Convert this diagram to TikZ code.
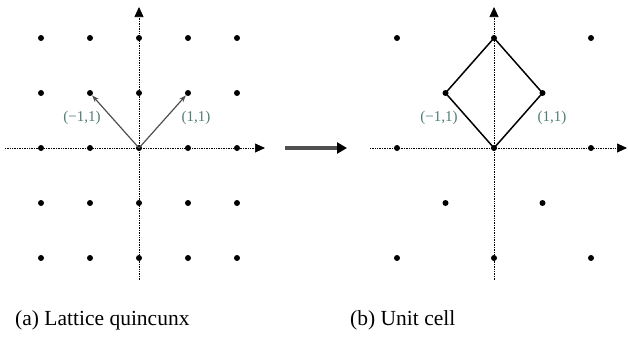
\documentclass[tikz,border=0pt]{standalone}
\usepackage{fontspec}
\setmainfont{Liberation Serif}
\usetikzlibrary{positioning, arrows.meta}
\definecolor{lblteal}{RGB}{80,125,118}
\definecolor{vecgray}{RGB}{80,80,80}

\begin{document}
\begin{tikzpicture}[x=1pt, y=-1pt, font=\fontsize{15}{17}\selectfont,
  dot/.style={circle, fill=black, inner sep=0pt, minimum size=6pt},
  axis/.style={densely dotted, line width=0.7pt, -{Triangle[length=10pt, width=9pt]}},
  vec/.style={vecgray, line width=1.2pt, -{Stealth[length=7pt, width=5pt]}},
  cell/.style={line width=1.5pt, line join=round},
  lbl/.style={text=lblteal, inner sep=1pt},
  captext/.style={font=\fontsize{21.5}{24}\selectfont, anchor=west, inner sep=0pt}]
  \useasboundingbox (0,0) rectangle (628,338);

  % (a) lattice
  \coordinate (ax0) at (5,148);   \coordinate (ax1) at (265,148);
  \coordinate (ay0) at (139,280); \coordinate (ay1) at (139,7);
  \draw[axis] (ax0) -- (ax1);
  \draw[axis] (ay0) -- (ay1);
  \foreach \i in {-2,...,2}
    \foreach \j in {-2,...,2}
      \node[dot] (a\i\j) at (139+49*\i, 148-55*\j) {};
  \draw[vec] (a00.center) -- (a-11);
  \draw[vec] (a00.center) -- (a11);
  \node[lbl] (la1) at (82,118) {(−1,1)};
  \node[lbl] (la2) at (196,118) {(1,1)};

  % arrow between the two
  \coordinate (m0) at (285,148); \coordinate (m1) at (347,148);
  \draw[vecgray, line width=3.5pt, -{Triangle[length=10pt, width=11pt, color=black]}] (m0) -- (m1);

  % (b) unit cell
  \coordinate (bx0) at (370,148); \coordinate (bx1) at (627,148);
  \coordinate (by0) at (494,280); \coordinate (by1) at (494,7);
  \draw[axis] (bx0) -- (bx1);
  \draw[axis] (by0) -- (by1);
  \foreach \i/\j in {-2/2,0/2,2/2,-1/1,1/1,-2/0,0/0,2/0,-1/-1,1/-1,-2/-2,0/-2,2/-2}
    \node[dot] (b\i\j) at (494+48.5*\i, 148-55*\j) {};
  \draw[cell] (b00.center) -- (b11.center) -- (b02.center) -- (b-11.center) -- cycle;
  \node[lbl] (lb1) at (439,118) {(−1,1)};
  \node[lbl] (lb2) at (552,118) {(1,1)};

  \node[captext] (capa) at (15,320) {(a) Lattice quincunx};
  \node[captext] (capb) at (350,320) {(b) Unit cell};
\end{tikzpicture}
\end{document}
